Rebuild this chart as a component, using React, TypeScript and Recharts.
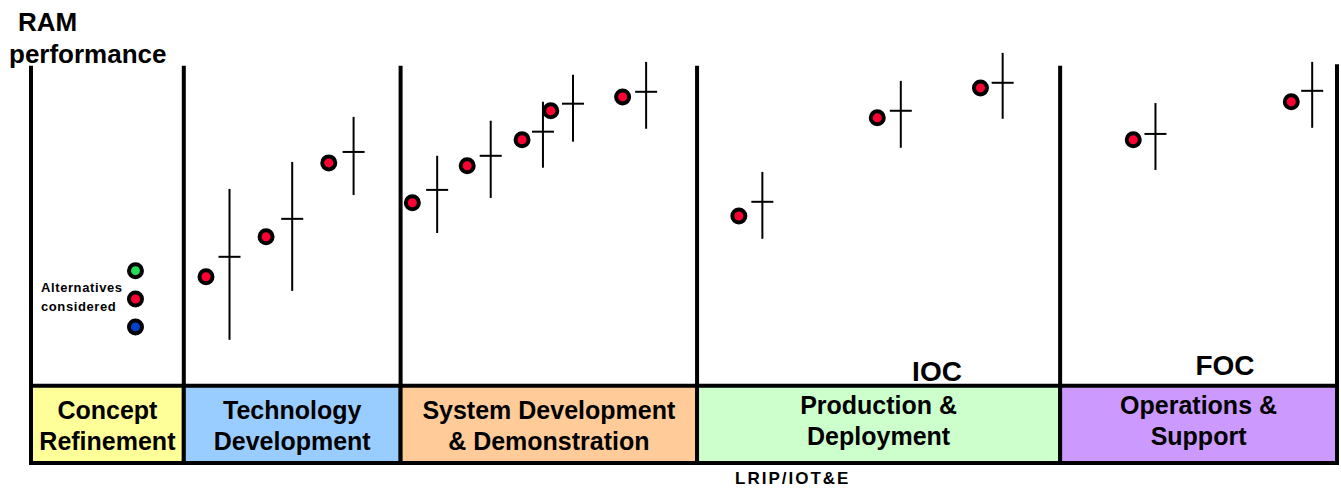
import { ScatterChart, Scatter, XAxis, YAxis, ErrorBar, ReferenceArea, ReferenceLine, Cell } from "recharts"

// acquisition phases (x in schedule units 0-100)
const phaseNames = ["Concept Refinement", "Technology Development", "System Development & Demonstration", "Production & Deployment", "Operations & Support"]
const phaseLabelLines = [
  ["Concept", "Refinement"],
  ["Technology", "Development"],
  ["System Development", "& Demonstration"],
  ["Production &", "Deployment"],
  ["Operations &", "Support"],
]
const phaseStart = [0, 11.7, 28.3, 51.0, 78.8]
const phaseEnd = [11.7, 28.3, 51.0, 78.8, 100]
const phaseFills = ["#ffff99", "#99ccff", "#ffcc99", "#ccffcc", "#cc99ff"]

// alternatives considered during concept refinement
const alternativesX = [8.0, 8.0, 8.0]
const alternativesY = [35.8, 27.0, 18.3]
const alternativeColors = ["#22dd55", "#ff0033", "#0044cc"]

// RAM performance estimates (dots)
const estimateX = [13.4, 18.0, 22.8, 29.2, 33.4, 37.6, 39.8, 45.3, 54.2, 64.8, 72.7, 84.4, 96.5]
const estimateY = [33.9, 46.3, 69.3, 56.9, 68.4, 76.5, 85.5, 89.8, 52.8, 83.3, 92.6, 76.5, 88.3]

// measured / demonstrated RAM with uncertainty (crosses)
const measuredX = [15.2, 20.0, 24.7, 31.1, 35.2, 39.2, 41.5, 47.1, 56.0, 66.6, 74.4, 86.1, 98.1]
const measuredY = [40.1, 51.9, 72.7, 60.9, 71.5, 79.0, 87.7, 91.4, 57.2, 85.5, 94.2, 78.3, 91.7]
const measuredLow = [25.8, 22.4, 13.4, 13.4, 13.1, 11.2, 11.8, 11.5, 11.5, 11.5, 11.2, 11.2, 11.5]
const measuredHigh = [21.1, 17.7, 10.9, 10.6, 10.9, 9.3, 9.0, 9.3, 9.3, 9.3, 9.3, 9.6, 9.0]

const lineTops = [99.5, 99.5, 99.5, 99.5, 99.5, 100]

const alternatives = alternativesX.map((x, i) => ({ x, y: alternativesY[i] }))
const estimates = estimateX.map((x, i) => ({ x, y: estimateY[i] }))
const measured = measuredX.map((x, i) => ({ x, y: measuredY[i], err: [measuredLow[i], measuredHigh[i]] }))
const boundaries = [...phaseStart, phaseEnd[phaseEnd.length - 1]]

const FONT = "'Liberation Sans', Arial, sans-serif"

const RingDot = (props: any) => (
  <circle cx={props.cx} cy={props.cy} r={6.5} fill={props.fill} stroke="#000" strokeWidth={4} />
)

const CrossTick = (props: any) => (
  <line x1={props.cx - 11} x2={props.cx + 11} y1={props.cy} y2={props.cy} stroke="#000" strokeWidth={2} />
)

const BoxLabel = (props: any) => {
  const { viewBox, lines } = props
  const cx = viewBox.x + viewBox.width / 2
  const top = viewBox.y
  const first = lines[0].startsWith("Production") || lines[0].startsWith("Operations") ? 28 : 33
  return (
    <text textAnchor="middle" fontFamily={FONT} fontWeight="bold" fontSize={25} fill="#000">
      {lines.map((l: string, i: number) => (
        <tspan key={i} x={cx} y={top + first + i * 31}>
          {l}
        </tspan>
      ))}
    </text>
  )
}

export default function App() {
  return (
    <div style={{ position: "absolute", left: 0, top: 0, width: 1341, height: 489, background: "#fff" }}>
      <ScatterChart width={1341} height={489} margin={{ top: 40, right: 4, bottom: 26, left: 31 }}>
        <XAxis type="number" dataKey="x" domain={[0, 100]} hide />
        <YAxis type="number" dataKey="y" domain={[-24, 107.5]} hide />
        {phaseNames.map((name, i) => (
          <ReferenceArea
            key={name}
            x1={phaseStart[i]}
            x2={phaseEnd[i]}
            y1={-24}
            y2={0}
            fill={phaseFills[i]}
            fillOpacity={1}
            stroke="#000"
            strokeWidth={4}
            label={(p: any) => <BoxLabel {...p} lines={phaseLabelLines[i]} />}
          />
        ))}
        {boundaries.map((b, i) => (
          <ReferenceLine
            key={i}
            segment={[{ x: b, y: 0 }, { x: b, y: lineTops[i] }]}
            stroke="#000"
            strokeWidth={4}
          />
        ))}
        <Scatter data={measured} shape={CrossTick} isAnimationActive={false}>
          <ErrorBar dataKey="err" direction="y" width={0} stroke="#000" strokeWidth={2} />
        </Scatter>
        <Scatter data={estimates} fill="#ff0033" shape={RingDot} isAnimationActive={false} />
        <Scatter data={alternatives} shape={RingDot} isAnimationActive={false}>
          {alternatives.map((_, i) => (
            <Cell key={i} fill={alternativeColors[i]} />
          ))}
        </Scatter>
      </ScatterChart>
      <svg width={1341} height={489} style={{ position: "absolute", left: 0, top: 0, pointerEvents: "none" }}>
        <g fontFamily={FONT} fontWeight="bold" fill="#000">
          <text x={18} y={31} fontSize={26}>RAM</text>
          <text x={9} y={63} fontSize={26}>performance</text>
          <text x={41} y={292} fontSize={13} letterSpacing={0.6}>Alternatives</text>
          <text x={41} y={311} fontSize={13} letterSpacing={0.6}>considered</text>
          <text x={937} y={381} fontSize={28} textAnchor="middle">IOC</text>
          <text x={1225} y={375} fontSize={28} textAnchor="middle">FOC</text>
          <text x={735} y={484} fontSize={17} letterSpacing={2}>LRIP/IOT&amp;E</text>
        </g>
      </svg>
    </div>
  )
}
